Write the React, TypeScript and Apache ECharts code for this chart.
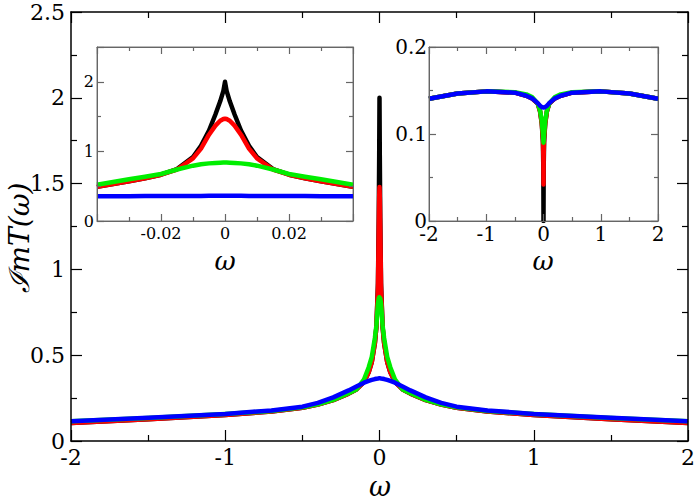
import React, { useEffect, useRef } from "react";
import * as echarts from "echarts";

// ---------- data ----------
const mainOmega = [-2, -1.5, -1, -0.7, -0.5, -0.4, -0.3, -0.2, -0.15, -0.1, -0.07, -0.05, -0.03, -0.02, -0.01, -0.005, -0.002, 0, 0.002, 0.005, 0.01, 0.02, 0.03, 0.05, 0.07, 0.1, 0.15, 0.2, 0.3, 0.4, 0.5, 0.7, 1, 1.5, 2];
const mainBlack = [0.105, 0.127, 0.152, 0.172, 0.194, 0.212, 0.238, 0.276, 0.3, 0.345, 0.4, 0.46, 0.57, 0.665, 0.92, 1.3, 1.66, 2.0, 1.66, 1.3, 0.92, 0.665, 0.57, 0.46, 0.4, 0.345, 0.3, 0.276, 0.238, 0.212, 0.194, 0.172, 0.152, 0.127, 0.105];
const mainRed = [0.105, 0.127, 0.152, 0.172, 0.194, 0.212, 0.238, 0.276, 0.3, 0.345, 0.4, 0.46, 0.57, 0.665, 0.9, 1.24, 1.42, 1.48, 1.42, 1.24, 0.9, 0.665, 0.57, 0.46, 0.4, 0.345, 0.3, 0.276, 0.238, 0.212, 0.194, 0.172, 0.152, 0.127, 0.105];
const mainGreen = [0.115, 0.134, 0.157, 0.175, 0.196, 0.214, 0.24, 0.278, 0.3, 0.36, 0.43, 0.49, 0.6, 0.675, 0.8, 0.83, 0.838, 0.84, 0.838, 0.83, 0.8, 0.675, 0.6, 0.49, 0.43, 0.36, 0.3, 0.278, 0.24, 0.214, 0.196, 0.175, 0.157, 0.134, 0.115];
const mainBlue = [0.115, 0.135, 0.158, 0.178, 0.2, 0.222, 0.254, 0.295, 0.318, 0.34, 0.35, 0.356, 0.361, 0.363, 0.364, 0.365, 0.365, 0.365, 0.365, 0.365, 0.364, 0.363, 0.361, 0.356, 0.35, 0.34, 0.318, 0.295, 0.254, 0.222, 0.2, 0.178, 0.158, 0.135, 0.115];

const inset1Omega = [-0.04, -0.035, -0.03, -0.025, -0.02, -0.015, -0.01, -0.0075, -0.005, -0.003, -0.0015, -0.0005, 0, 0.0005, 0.0015, 0.003, 0.005, 0.0075, 0.01, 0.015, 0.02, 0.025, 0.03, 0.035, 0.04];
const inset1Black = [0.49, 0.53, 0.57, 0.615, 0.665, 0.745, 0.92, 1.08, 1.3, 1.53, 1.72, 1.87, 2.0, 1.87, 1.72, 1.53, 1.3, 1.08, 0.92, 0.745, 0.665, 0.615, 0.57, 0.53, 0.49];
const inset1Red = [0.49, 0.53, 0.57, 0.615, 0.665, 0.74, 0.9, 1.04, 1.24, 1.37, 1.44, 1.465, 1.47, 1.465, 1.44, 1.37, 1.24, 1.04, 0.9, 0.74, 0.665, 0.615, 0.57, 0.53, 0.49];
const inset1Green = [0.52, 0.56, 0.6, 0.635, 0.675, 0.74, 0.795, 0.815, 0.828, 0.835, 0.838, 0.84, 0.84, 0.84, 0.838, 0.835, 0.828, 0.815, 0.795, 0.74, 0.675, 0.635, 0.6, 0.56, 0.52];
const inset1Blue = [0.355, 0.356, 0.357, 0.358, 0.359, 0.36, 0.36, 0.36, 0.361, 0.361, 0.361, 0.361, 0.361, 0.361, 0.361, 0.361, 0.361, 0.36, 0.36, 0.36, 0.359, 0.358, 0.357, 0.356, 0.355];

const inset2Omega = [-2, -1.5, -1, -0.5, -0.3, -0.2, -0.1, -0.06, -0.03, -0.01, -0.003, 0, 0.003, 0.01, 0.03, 0.06, 0.1, 0.2, 0.3, 0.5, 1, 1.5, 2];
const inset2Black = [0.1405, 0.1465, 0.149, 0.1475, 0.144, 0.141, 0.135, 0.126, 0.112, 0.09, 0.06, 0.0, 0.06, 0.09, 0.112, 0.126, 0.135, 0.141, 0.144, 0.1475, 0.149, 0.1465, 0.1405];
const inset2Red = [0.1405, 0.1465, 0.149, 0.1475, 0.144, 0.141, 0.135, 0.126, 0.112, 0.095, 0.075, 0.042, 0.075, 0.095, 0.112, 0.126, 0.135, 0.141, 0.144, 0.1475, 0.149, 0.1465, 0.1405];
const inset2Green = [0.1405, 0.1465, 0.149, 0.148, 0.1455, 0.1425, 0.135, 0.127, 0.115, 0.1, 0.093, 0.09, 0.093, 0.1, 0.115, 0.127, 0.135, 0.1425, 0.1455, 0.148, 0.149, 0.1465, 0.1405];
const inset2Blue = [0.1405, 0.1465, 0.149, 0.1475, 0.144, 0.141, 0.1355, 0.1325, 0.131, 0.1305, 0.1305, 0.1305, 0.1305, 0.1305, 0.131, 0.1325, 0.1355, 0.141, 0.144, 0.1475, 0.149, 0.1465, 0.1405];

const seriesColors = ["#000000", "#ff0000", "#00ee00", "#0000ff"];

const FONT = "DejaVu Serif";

function pairs(xs: number[], ys: number[]) {
  return xs.map((x, i) => [x, ys[i]]);
}

function axis(opts: any) {
  const {
    gridIndex, min, max, interval, position, showLabels, fontSize, color, lineWidth,
    tickLen, minorLen, margin, hideMin, hideMax,
  } = opts;
  return {
    type: "value",
    gridIndex,
    min,
    max,
    interval,
    position,
    z: 10,
    splitLine: { show: false },
    axisLine: { show: true, onZero: false, lineStyle: { color, width: lineWidth } },
    axisTick: { show: true, inside: true, length: tickLen, lineStyle: { color, width: 1.2 } },
    minorTick: { show: true, splitNumber: 2, length: minorLen, lineStyle: { color, width: 1.2 } },
    axisLabel: {
      show: showLabels,
      color: "#000",
      fontFamily: FONT,
      fontSize,
      margin,
      showMinLabel: hideMin ? false : true,
      showMaxLabel: hideMax ? false : true,
    },
  };
}

export default function App() {
  const ref = useRef<HTMLDivElement>(null);

  useEffect(() => {
    document.body.style.margin = "0";
    if (!ref.current) return;
    const chart = echarts.init(ref.current, null, { renderer: "svg" });

    const mainStyle = { color: "#000", lineWidth: 1.5, tickLen: 11, minorLen: 6 };
    const insetStyle = { color: "#666", lineWidth: 1, tickLen: 7, minorLen: 4 };

    const xAxis = [
      axis({ gridIndex: 0, min: -2, max: 2, interval: 1, position: "bottom", showLabels: true, fontSize: 22, margin: 5, ...mainStyle }),
      axis({ gridIndex: 0, min: -2, max: 2, interval: 1, position: "top", showLabels: false, fontSize: 22, margin: 5, ...mainStyle }),
      axis({ gridIndex: 1, min: -0.04, max: 0.04, interval: 0.02, position: "bottom", showLabels: true, fontSize: 16, margin: 4, hideMin: true, hideMax: true, ...insetStyle }),
      axis({ gridIndex: 1, min: -0.04, max: 0.04, interval: 0.02, position: "top", showLabels: false, fontSize: 16, margin: 4, ...insetStyle }),
      axis({ gridIndex: 2, min: -2, max: 2, interval: 1, position: "bottom", showLabels: true, fontSize: 20, margin: 3, ...insetStyle }),
      axis({ gridIndex: 2, min: -2, max: 2, interval: 1, position: "top", showLabels: false, fontSize: 20, margin: 3, ...insetStyle }),
    ];
    const yAxis = [
      axis({ gridIndex: 0, min: 0, max: 2.5, interval: 0.5, position: "left", showLabels: true, fontSize: 22, margin: 6, ...mainStyle }),
      axis({ gridIndex: 0, min: 0, max: 2.5, interval: 0.5, position: "right", showLabels: false, fontSize: 22, margin: 6, ...mainStyle }),
      axis({ gridIndex: 1, min: 0, max: 2.5, interval: 1, position: "left", showLabels: true, fontSize: 16, margin: 3, hideMax: true, ...insetStyle }),
      axis({ gridIndex: 1, min: 0, max: 2.5, interval: 1, position: "right", showLabels: false, fontSize: 16, margin: 3, ...insetStyle }),
      axis({ gridIndex: 2, min: 0, max: 0.2, interval: 0.1, position: "left", showLabels: true, fontSize: 20, margin: 2, ...insetStyle }),
      axis({ gridIndex: 2, min: 0, max: 0.2, interval: 0.1, position: "right", showLabels: false, fontSize: 20, margin: 2, ...insetStyle }),
    ];

    const mk = (name: string, idx: number, xs: number[], ys: number[], colorIdx: number, z: number) => ({
      name,
      type: "line",
      xAxisIndex: idx,
      yAxisIndex: idx,
      data: pairs(xs, ys),
      showSymbol: false,
      symbol: "none",
      clip: true,
      smooth: false,
      z,
      lineStyle: { color: seriesColors[colorIdx], width: 4.5, cap: "butt", join: "round" },
      itemStyle: { color: seriesColors[colorIdx] },
    });

    const series = [
      mk("main-black", 0, mainOmega, mainBlack, 0, 2),
      mk("main-red", 0, mainOmega, mainRed, 1, 3),
      mk("main-green", 0, mainOmega, mainGreen, 2, 4),
      mk("main-blue", 0, mainOmega, mainBlue, 3, 5),
      mk("inset1-black", 2, inset1Omega, inset1Black, 0, 2),
      mk("inset1-red", 2, inset1Omega, inset1Red, 1, 3),
      mk("inset1-green", 2, inset1Omega, inset1Green, 2, 4),
      mk("inset1-blue", 2, inset1Omega, inset1Blue, 3, 5),
      mk("inset2-black", 4, inset2Omega, inset2Black, 0, 2),
      mk("inset2-red", 4, inset2Omega, inset2Red, 1, 3),
      mk("inset2-green", 4, inset2Omega, inset2Green, 2, 4),
      mk("inset2-blue", 4, inset2Omega, inset2Blue, 3, 5),
    ];

    chart.setOption({
      animation: false,
      backgroundColor: "#fff",
      grid: [
        { left: 71, top: 12, width: 617, height: 429, containLabel: false },
        { left: 97, top: 47, width: 256, height: 174, show: true, backgroundColor: "transparent", borderWidth: 1, borderColor: "#777" },
        { left: 429, top: 47, width: 229, height: 174, show: true, backgroundColor: "transparent", borderWidth: 1, borderColor: "#777" },
      ],
      xAxis,
      yAxis,
      series,
      graphic: [
        {
          type: "text",
          x: 19,
          y: 238,
          rotation: Math.PI / 2,
          style: {
            text: "ℐmT(ω)",
            fontFamily: FONT,
            fontStyle: "italic",
            fontSize: 28,
            fill: "#000",
            align: "center",
            verticalAlign: "middle",
          },
        },
        {
          type: "text",
          x: 380,
          y: 486,
          style: { text: "ω", fontFamily: FONT, fontStyle: "italic", fontSize: 27, fill: "#000", align: "center", verticalAlign: "middle" },
        },
        {
          type: "text",
          x: 225,
          y: 261,
          style: { text: "ω", fontFamily: FONT, fontStyle: "italic", fontSize: 26, fill: "#000", align: "center", verticalAlign: "middle" },
        },
        {
          type: "text",
          x: 543,
          y: 261,
          style: { text: "ω", fontFamily: FONT, fontStyle: "italic", fontSize: 26, fill: "#000", align: "center", verticalAlign: "middle" },
        },
      ],
    });

    return () => chart.dispose();
  }, []);

  return <div ref={ref} style={{ width: 698, height: 501 }} />;
}
